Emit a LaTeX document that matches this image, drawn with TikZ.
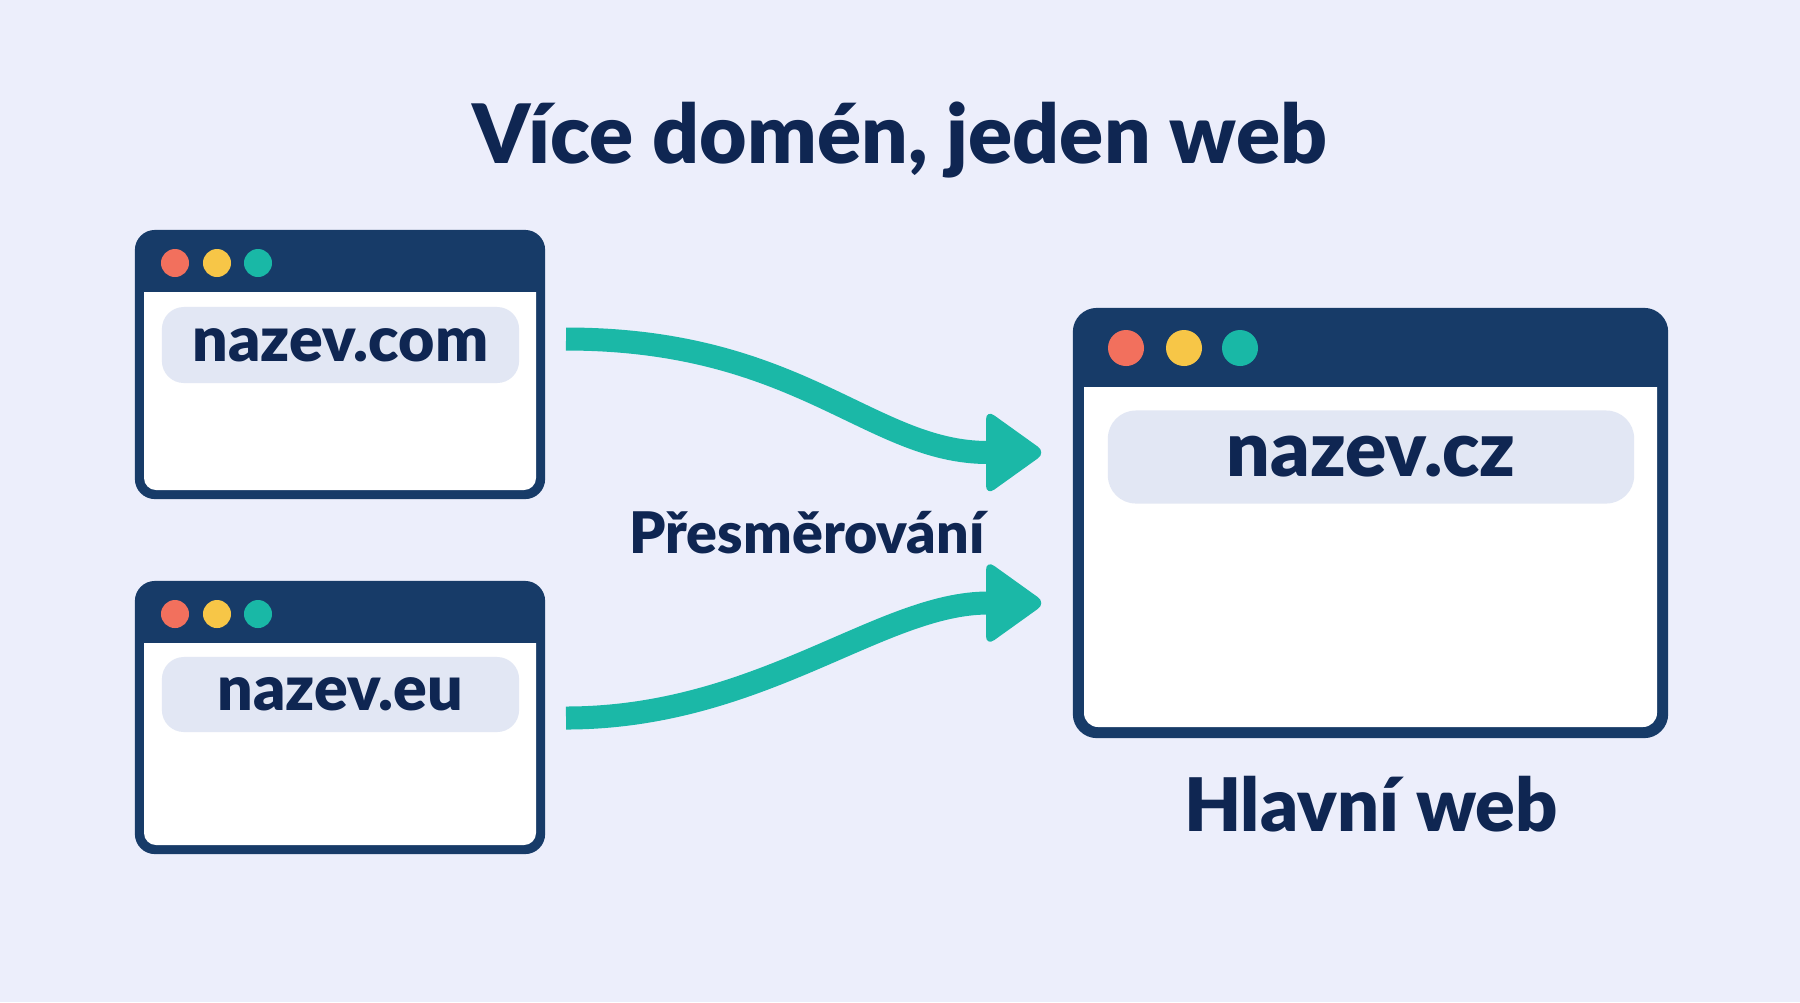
\documentclass[tikz,border=0pt]{standalone}
\usepackage{fontspec}
\setmainfont{Lato}[BoldFont={Lato Black}]
\usetikzlibrary{calc}
\definecolor{bgc}{HTML}{ECEEFB}
\definecolor{navy}{HTML}{173B68}
\definecolor{ink}{HTML}{0F2652}
\definecolor{barc}{HTML}{E2E7F4}
\definecolor{tealc}{HTML}{1BB8A7}
\definecolor{dred}{HTML}{F2705D}
\definecolor{dyel}{HTML}{F7C647}
\definecolor{dteal}{HTML}{19B8A6}
\tikzset{
  win/.style={fill=navy, rounded corners=2mm, inner sep=0pt},
  urlbar/.style={fill=barc, rounded corners=2.2mm, inner sep=0pt, text=ink},
  dotr/.style={circle, fill=dred, inner sep=0pt},
  doty/.style={circle, fill=dyel, inner sep=0pt},
  dott/.style={circle, fill=dteal, inner sep=0pt},
  conn/.style={draw=tealc, line width=2.3mm},
  head/.style={fill=tealc, rounded corners=1mm},
  lbl/.style={text=ink, anchor=base, inner sep=0pt},
}
\begin{document}
\begin{tikzpicture}[x=0.01cm,y=-0.01cm]
\fill[bgc] (0,0) rectangle (1800,1002);
\path[use as bounding box] (0,0) rectangle (1800,1002);

% title
\node[lbl, font=\bfseries\fontsize{23.3}{26}\selectfont] (title) at (900,163) {Více domén, jeden web};

% window 1
\node[win, minimum width=4.1cm, minimum height=2.69cm] (w1) at (340,364.5) {};
\fill[white] (144,292) -- (536,292) [rounded corners=1.2mm] -- (536,490) -- (144,490) [sharp corners] -- cycle;
\node[dotr, minimum size=2.8mm] (w1r) at (175,263) {};
\node[doty, minimum size=2.8mm] (w1y) at (217,263) {};
\node[dott, minimum size=2.8mm] (w1t) at (258,263) {};
\node[urlbar, minimum width=3.57cm, minimum height=0.76cm, font=\bfseries\fontsize{17.8}{20}\selectfont] (u1) at (340.5,345) {nazev.com};

% window 2
\node[win, minimum width=4.1cm, minimum height=2.73cm] (w2) at (340,717.5) {};
\fill[white] (144,643) -- (536,643) [rounded corners=1.2mm] -- (536,845) -- (144,845) [sharp corners] -- cycle;
\node[dotr, minimum size=2.8mm] (w2r) at (175,614) {};
\node[doty, minimum size=2.8mm] (w2y) at (217,614) {};
\node[dott, minimum size=2.8mm] (w2t) at (258,614) {};
\node[urlbar, minimum width=3.57cm, minimum height=0.75cm, font=\bfseries\fontsize{17.8}{20}\selectfont] (u2) at (340.5,694.5) {nazev.eu};

% window 3 (main)
\node[win, minimum width=5.95cm, minimum height=4.3cm, rounded corners=2.4mm] (w3) at (1370.5,523) {};
\fill[white] (1084,387) -- (1657,387) [rounded corners=1.4mm] -- (1657,727) -- (1084,727) [sharp corners] -- cycle;
\node[dotr, minimum size=3.6mm] (w3r) at (1126,348) {};
\node[doty, minimum size=3.6mm] (w3y) at (1184,348) {};
\node[dott, minimum size=3.6mm] (w3t) at (1240,348) {};
\node[urlbar, minimum width=5.26cm, minimum height=0.93cm, rounded corners=2.8mm, font=\bfseries\fontsize{21.8}{24}\selectfont] (u3) at (1371,457) {nazev.cz};

\node[lbl, font=\bfseries\fontsize{21}{24}\selectfont] (main) at (1371,831) {Hlavní web};

% connectors
\coordinate (a1s) at (566,339);
\coordinate (a1e) at (988,452.5);
\coordinate (a2s) at (566,718);
\coordinate (a2e) at (988,603);
\draw[conn] (a1s) .. controls (800,339) and (870,452.5) .. (a1e);
\draw[conn] (a2s) .. controls (760,718) and (880,603) .. (a2e);
\fill[head] ($(a1e)+(-2,-43)$) -- ($(a1e)+(58,0)$) -- ($(a1e)+(-2,43)$) -- cycle;
\fill[head] ($(a2e)+(-2,-43)$) -- ($(a2e)+(58,0)$) -- ($(a2e)+(-2,43)$) -- cycle;

\node[lbl, font=\bfseries\fontsize{16.3}{18}\selectfont] (redir) at (807,553) {Přesměrování};
\end{tikzpicture}
\end{document}
